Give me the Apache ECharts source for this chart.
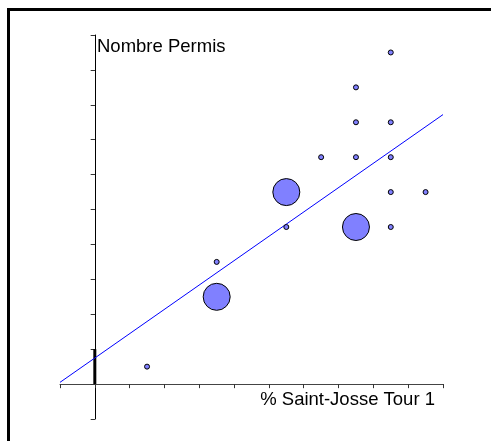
<!DOCTYPE html>
<html>
<head>
<meta charset="utf-8">
<script src="https://cdn.jsdelivr.net/npm/echarts@6/dist/echarts.min.js"></script>
<style>html,body{margin:0;padding:0;background:#fff}#c{width:491px;height:441px}</style>
</head>
<body>
<div id="c"></div>
<script>
// Data
var pointX = [1.5, 3.5, 3.5, 5.5, 5.5, 6.5, 7.5, 7.5, 7.5, 7.5, 8.5, 8.5, 8.5, 8.5, 8.5, 9.5];
var pointY = [0.5, 3.5, 2.5, 4.5, 5.5, 6.5, 8.5, 7.5, 6.5, 4.5, 9.5, 7.5, 6.5, 5.5, 4.5, 5.5];
var pointWeight = [1, 1, 2, 1, 2, 1, 1, 1, 1, 2, 1, 1, 1, 1, 1, 1];
var trendX = [-1, 10];
var trendY = [0.05, 7.72];
var axisTicks = [-1, 0, 1, 2, 3, 4, 5, 6, 7, 8, 9, 10];
var yLabel = 'Nombre Permis';
var xLabel = '% Saint-Josse Tour 1';

var chart = echarts.init(document.getElementById('c'), null, {renderer: 'canvas'});
var pts = pointX.map(function (x, i) { return [x, pointY[i], pointWeight[i]]; });
var trend = trendX.map(function (x, i) { return [x, trendY[i]]; });
var tickColor = '#333';
function mkX(inside, show) {
  return {
    type: 'value', min: axisTicks[0], max: axisTicks[axisTicks.length - 1], interval: 1,
    splitLine: {show: false}, axisLabel: {show: false},
    axisLine: {show: show, onZero: true, onZeroAxisIndex: 0, lineStyle: {color: '#444', width: 1}},
    axisTick: {show: true, inside: inside, length: 4, lineStyle: {color: tickColor}}
  };
}
function mkY(inside, show) {
  return {
    type: 'value', min: axisTicks[0], max: axisTicks[axisTicks.length - 1], interval: 1,
    splitLine: {show: false}, axisLabel: {show: false},
    axisLine: {show: show, onZero: true, onZeroAxisIndex: 0, lineStyle: {color: '#000', width: 1}},
    axisTick: {show: true, inside: inside, length: 4, lineStyle: {color: tickColor}}
  };
}
chart.setOption({
  animation: false,
  backgroundColor: '#fff',
  grid: {left: 60, right: 48, top: 35, bottom: 22},
  xAxis: [mkX(false, true), mkX(true, false)],
  yAxis: [mkY(false, true), mkY(true, false)],
  graphic: [
    {type: 'rect', shape: {x: 8.5, y: 9.5, width: 700, height: 700}, style: {fill: null, stroke: '#000', lineWidth: 3}, z: 100},
    {type: 'text', left: 97, top: 37, style: {text: yLabel, font: '18.5px "Liberation Sans", Arial, sans-serif', fill: '#000'}},
    {type: 'text', right: 56, top: 390, style: {text: xLabel, font: '18.5px "Liberation Sans", Arial, sans-serif', fill: '#000'}}
  ],
  series: [
    {
      type: 'line', data: [[0, 0], [0, 1]], showSymbol: false, symbol: 'none',
      lineStyle: {color: '#000', width: 3}, z: 3
    },
    {
      type: 'line', data: trend, showSymbol: false, symbol: 'none',
      lineStyle: {color: '#0000ff', width: 1}, z: 4
    },
    {
      type: 'scatter', data: pts,
      symbolSize: function (v) { return v[2] > 1 ? 27 : 5; },
      itemStyle: {color: '#8080ff', borderColor: '#000', borderWidth: 1, opacity: 1}, z: 5
    }
  ]
});
</script>
</body>
</html>
